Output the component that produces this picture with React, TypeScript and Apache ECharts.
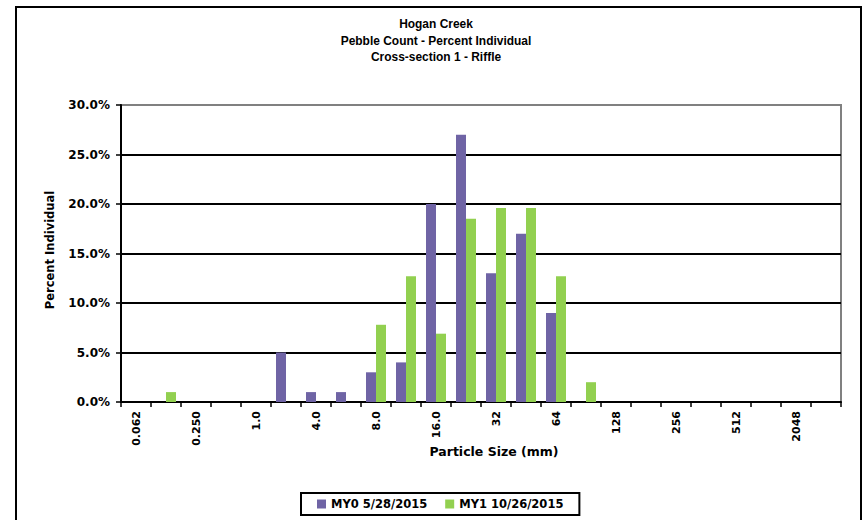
import React, { useEffect, useRef } from "react";
import * as echarts from "echarts";

const titleLines = ["Hogan Creek", "Pebble Count - Percent Individual", "Cross-section 1 - Riffle"];
const sizeClasses = [
  "0.062", "0.125", "0.250", "0.50", "1.0", "2.0", "4.0", "5.6", "8.0", "11.0", "16.0", "22.6",
  "32", "45", "64", "90", "128", "180", "256", "362", "512", "1024", "2048", "4096",
];
const my0Name = "MY0 5/28/2015";
const my1Name = "MY1 10/26/2015";
const my0Values = [0, 0, 0, 0, 0, 5, 1, 1, 3, 4, 20, 27, 13, 17, 9, 0, 0, 0, 0, 0, 0, 0, 0, 0];
const my1Values = [0, 1.0, 0, 0, 0, 0, 0, 0, 7.8, 12.7, 6.9, 18.5, 19.6, 19.6, 12.7, 2.0, 0, 0, 0, 0, 0, 0, 0, 0];
const yMin = 0;
const yMax = 30;
const yStep = 5;

const WIDE = "'DejaVu Sans', Verdana, sans-serif";
const ARIAL = "'Liberation Sans', Arial, sans-serif";

export default function App() {
  const ref = useRef<HTMLDivElement>(null);
  useEffect(() => {
    if (!ref.current) return;
    const chart = echarts.init(ref.current, null, { renderer: "svg" });
    const splitColors = [];
    for (let v = yMin; v <= yMax; v += yStep) splitColors.push(v === yMax ? "#808080" : "#000000");
    chart.setOption({
      animation: false,
      backgroundColor: "#ffffff",
      grid: {
        left: 121,
        right: 24,
        top: 105,
        bottom: 118,
        show: true,
        borderColor: "#808080",
        borderWidth: 2,
        backgroundColor: "transparent",
      },
      legend: {
        left: 301,
        top: 493,
        orient: "horizontal",
        padding: [5, 16, 5, 16],
        itemGap: 18,
        itemWidth: 9,
        itemHeight: 9,
        icon: "rect",
        borderColor: "#000",
        borderWidth: 2,
        textStyle: { fontFamily: WIDE, fontWeight: "bold", fontSize: 11.5, color: "#000" },
        data: [my0Name, my1Name],
      },
      xAxis: {
        type: "category",
        data: sizeClasses,
        axisLine: { show: true, lineStyle: { color: "#000", width: 2 } },
        axisTick: { show: true, interval: 0, length: 5, lineStyle: { color: "#000", width: 1.5 } },
        axisLabel: {
          interval: 1,
          rotate: 90,
          margin: 9,
          fontFamily: WIDE,
          fontWeight: "bold",
          fontSize: 11,
          color: "#000",
        },
        splitLine: { show: false },
      },
      yAxis: {
        type: "value",
        min: yMin,
        max: yMax,
        interval: yStep,
        axisLine: { show: true, lineStyle: { color: "#000", width: 2 } },
        axisTick: { show: true, length: 5, lineStyle: { color: "#000", width: 1.5 } },
        axisLabel: {
          margin: 11,
          fontFamily: WIDE,
          fontWeight: "bold",
          fontSize: 12,
          color: "#000",
          formatter: (v: number) => v.toFixed(1) + "%",
        },
        splitLine: { show: true, lineStyle: { color: splitColors, width: 2 } },
      },
      series: [
        {
          name: my0Name,
          type: "bar",
          data: my0Values,
          barWidth: 10,
          barGap: "0%",
          itemStyle: { color: "#6F64A5" },
        },
        {
          name: my1Name,
          type: "bar",
          data: my1Values,
          barWidth: 10,
          barGap: "0%",
          itemStyle: { color: "#92D050" },
        },
      ],
      graphic: [
        {
          type: "rect",
          shape: { x: 16, y: 7, width: 845, height: 530 },
          style: { fill: "none", stroke: "#000", lineWidth: 2 },
          silent: true,
          z: 10,
        },
        ...titleLines.map((t, i) => ({
          type: "text",
          x: 436,
          y: 24 + i * 16.5,
          scaleX: 0.92,
          style: {
            text: t,
            fill: "#000",
            font: `bold 13px ${ARIAL}`,
            textAlign: "center",
            textVerticalAlign: "middle",
          },
        })),
        {
          type: "text",
          x: 50,
          y: 250,
          rotation: Math.PI / 2,
          style: {
            text: "Percent Individual",
            fill: "#000",
            font: `bold 11.5px ${WIDE}`,
            textAlign: "center",
            textVerticalAlign: "middle",
          },
        },
        {
          type: "text",
          x: 494,
          y: 451,
          style: {
            text: "Particle Size (mm)",
            fill: "#000",
            font: `bold 12.5px ${WIDE}`,
            textAlign: "center",
            textVerticalAlign: "middle",
          },
        },
      ],
    });
    return () => chart.dispose();
  }, []);
  return (
    <div
      ref={ref}
      style={{ position: "absolute", left: 0, top: 0, width: 865, height: 520, background: "#fff" }}
    />
  );
}
